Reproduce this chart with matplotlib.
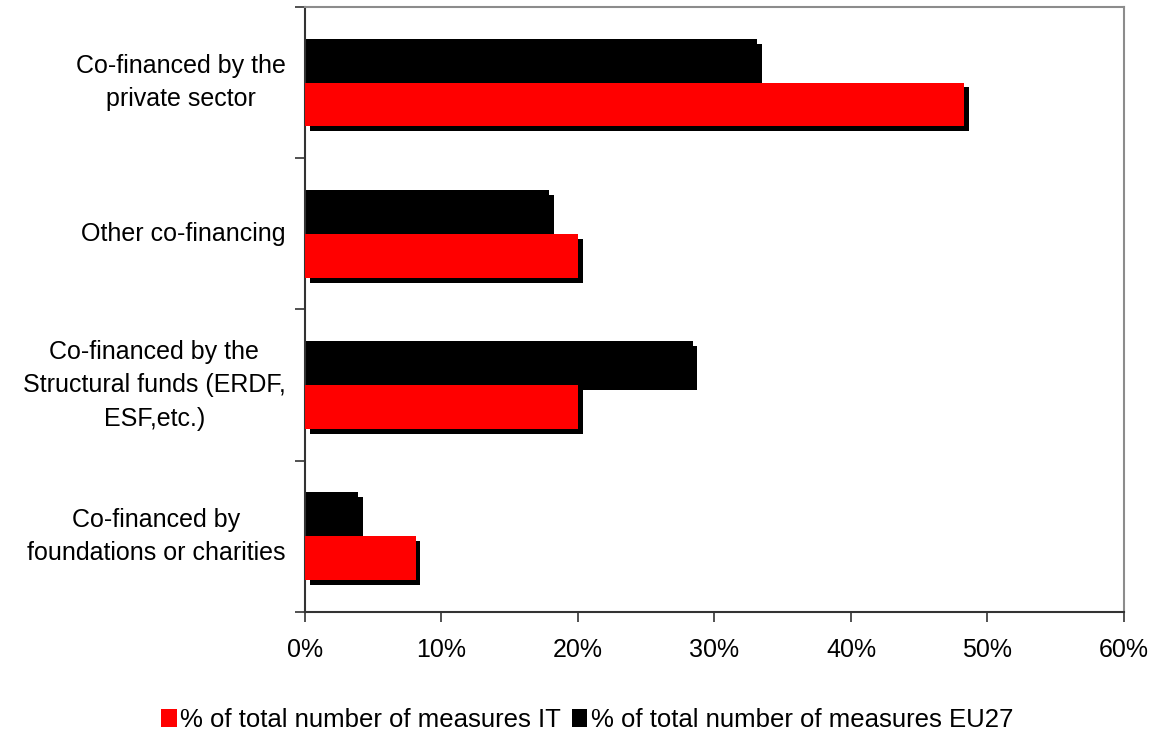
import numpy as np
import matplotlib
matplotlib.use("Agg")
import matplotlib.pyplot as plt
import matplotlib.patheffects as pe
from matplotlib.patches import Patch
from matplotlib.ticker import FuncFormatter

plt.rcParams['font.family'] = ['Liberation Sans', 'DejaVu Sans']

categories = ['Co-financed by\nfoundations or charities',
              'Co-financed by the\nStructural funds (ERDF,\nESF,etc.)',
              'Other co-financing',
              'Co-financed by the\nprivate sector']
share_it = [8.1, 20.0, 20.0, 48.3]
share_eu27 = [3.9, 28.4, 17.9, 33.1]
series_names = ['% of total number of measures IT',
                '% of total number of measures EU27']

fig = plt.figure(figsize=(11.56, 7.33), dpi=100)
ax = fig.add_axes([0.2638, 0.1651, 0.9723 - 0.2638, 0.9905 - 0.1651])

y = np.arange(len(categories))
h = 0.29
shadow = [pe.SimplePatchShadow(offset=(3.5, -3.5), shadow_rgbFace='black', alpha=1.0), pe.Normal()]

eu = ax.barh(y + h / 2, share_eu27, height=h, color='black', zorder=2)
it = ax.barh(y - h / 2, share_it, height=h, color='#ff0000', zorder=3)
for b in list(eu) + list(it):
    b.set_path_effects(shadow)

ax.set_xlim(0, 60)
ax.set_ylim(-0.5, len(categories) - 0.5)
ax.set_xticks(np.arange(0, 61, 10))
ax.xaxis.set_major_formatter(FuncFormatter(lambda v, p: f'{v:.0f}%'))
ax.tick_params(axis='x', length=7, width=1.2, color='#333333', labelsize=18, pad=12)

ax.set_yticks(y)
ax.set_yticklabels(categories, ha='right', va='center', multialignment='center', linespacing=1.5)
ax.set_yticks(np.arange(-0.5, len(categories), 1), minor=True)
ax.tick_params(axis='y', which='major', length=0, labelsize=18, pad=14)
ax.tick_params(axis='y', which='minor', length=7, width=1.2, color='#333333')

for s in ['left', 'bottom']:
    ax.spines[s].set_color('#333333')
    ax.spines[s].set_linewidth(1.5)
for s in ['top', 'right']:
    ax.spines[s].set_color('#8c8c8c')
    ax.spines[s].set_linewidth(1.5)

handles = [Patch(facecolor='#ff0000'), Patch(facecolor='black')]
fig.legend(handles, series_names, loc='center', bbox_to_anchor=(0.508, 0.018),
           ncol=2, frameon=False, fontsize=18.5, handlelength=0.6, handleheight=0.7,
           handletextpad=0.15, columnspacing=0.4)

fig.savefig('out.png', dpi=100)
